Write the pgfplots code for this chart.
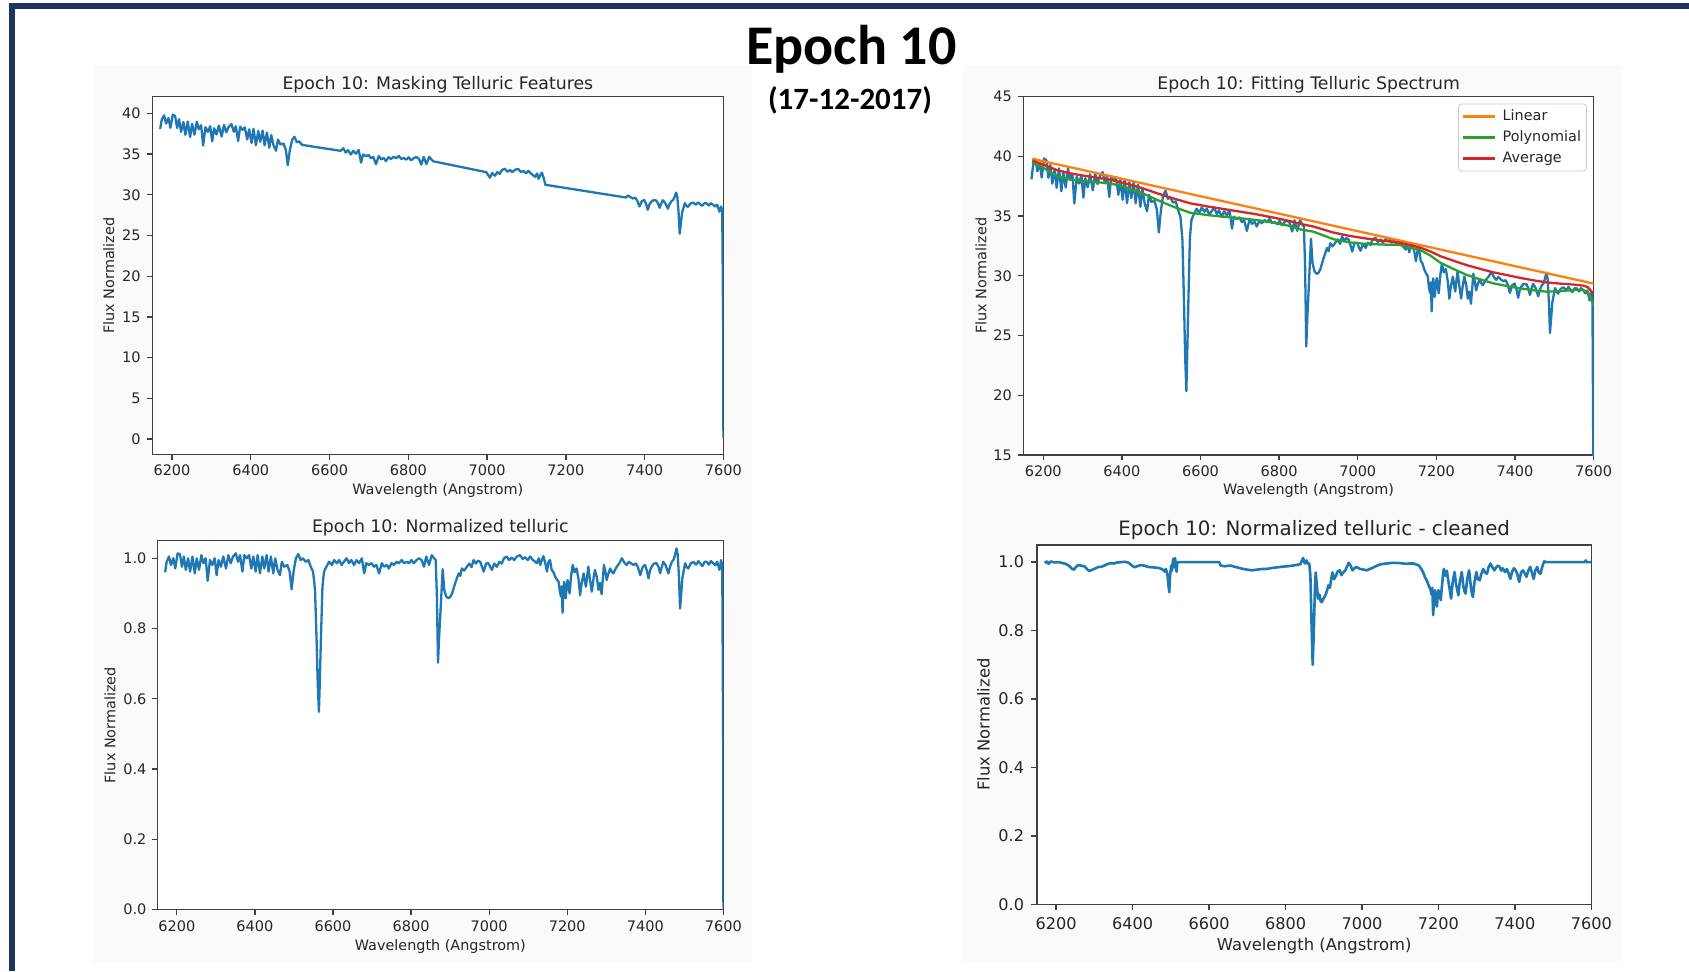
\documentclass[border=0pt]{standalone}
\usepackage{fontspec}
\setmainfont{DejaVu Sans}
\newfontfamily\slidefont{Carlito}
\usepackage{pgfplots}
\usepackage{pgfplotstable}
\pgfplotsset{compat=1.18}

\definecolor{mplblue}{HTML}{1F77B4}
\definecolor{mplorange}{HTML}{FF7F0E}
\definecolor{mplgreen}{HTML}{2CA02C}
\definecolor{mplred}{HTML}{D62728}
\definecolor{slidenavy}{HTML}{1B3460}
\definecolor{figgray}{HTML}{FAFAFA}

% normalised telluric spectrum (flux / average continuum)
\pgfplotstableread{
wl flux
6170 0.960
6174 0.990
6180 1.005
6185 0.981
6191 1.000
6196 0.971
6202 1.014
6208 1.012
6213 0.976
6218 1.005
6223 0.967
6229 1.000
6234 0.962
6240 1.005
6246 0.957
6251 1.000
6257 0.967
6263 1.009
6268 0.986
6274 1.000
6279 0.936
6285 0.995
6291 0.981
6297 1.000
6302 0.952
6307 0.995
6313 0.976
6319 1.005
6326 0.971
6332 1.009
6338 0.986
6344 1.005
6351 1.014
6357 0.990
6362 1.009
6368 0.962
6373 1.009
6379 1.000
6385 1.009
6391 0.971
6396 1.005
6402 0.962
6407 1.009
6413 0.957
6419 1.005
6424 0.971
6430 1.009
6435 0.962
6441 1.005
6447 0.957
6452 1.000
6458 0.967
6464 0.952
6469 0.990
6475 0.976
6483 0.981
6489 0.962
6494 0.912
6499 0.962
6505 1.000
6511 1.012
6517 0.995
6523 1.000
6530 0.990
6537 0.995
6543 0.976
6549 0.962
6554 0.910
6558 0.767
6561 0.640
6564 0.563
6566 0.640
6569 0.767
6573 0.919
6577 0.962
6583 0.976
6590 0.990
6597 0.981
6603 0.995
6610 0.986
6616 0.995
6622 0.981
6628 0.990
6635 1.000
6641 0.986
6647 0.995
6654 0.981
6660 0.995
6667 0.986
6674 1.000
6680 0.957
6685 0.986
6692 0.981
6699 0.986
6705 0.976
6711 0.981
6718 0.957
6725 0.986
6731 0.976
6738 0.981
6743 0.971
6750 0.986
6756 0.981
6763 0.990
6769 0.986
6776 0.995
6782 0.986
6789 0.990
6795 0.986
6801 0.995
6807 0.986
6814 0.995
6820 1.000
6827 0.995
6833 0.976
6839 1.005
6846 0.981
6853 1.009
6859 1.000
6863 0.995
6866 0.900
6869 0.703
6872 0.780
6876 0.862
6881 0.969
6885 0.910
6890 0.891
6896 0.886
6900 0.890
6905 0.900
6909 0.915
6913 0.929
6918 0.945
6922 0.957
6926 0.950
6930 0.971
6936 0.965
6943 0.976
6949 0.985
6955 0.975
6960 0.995
6966 0.985
6971 0.993
6977 0.990
6982 0.975
6986 0.962
6992 0.985
6998 0.986
7003 0.975
7007 0.967
7013 0.985
7020 0.976
7026 0.990
7032 0.985
7038 1.000
7045 1.005
7051 0.995
7058 1.002
7064 0.995
7071 1.005
7079 1.009
7086 0.998
7092 1.003
7099 0.995
7105 1.005
7112 0.995
7118 0.990
7122 0.986
7127 1.000
7131 0.981
7135 0.995
7139 1.006
7144 0.985
7148 0.962
7152 0.990
7156 0.995
7160 0.967
7165 0.960
7169 0.948
7173 0.940
7178 0.933
7181 0.905
7184 0.891
7186 0.920
7188 0.845
7190 0.900
7192 0.933
7194 0.915
7196 0.886
7199 0.925
7201 0.938
7204 0.915
7206 0.900
7210 0.950
7214 0.981
7219 0.960
7224 0.971
7229 0.940
7233 0.895
7237 0.930
7242 0.957
7245 0.935
7248 0.919
7251 0.950
7254 0.976
7258 0.940
7263 0.905
7267 0.940
7271 0.967
7276 0.945
7280 0.910
7284 0.930
7288 0.898
7291 0.940
7294 0.981
7298 0.960
7301 0.938
7305 0.955
7310 0.971
7314 0.962
7318 0.957
7323 0.968
7327 0.976
7333 0.985
7340 1.000
7346 0.988
7352 0.981
7358 0.990
7364 0.985
7370 0.981
7376 0.985
7381 0.975
7387 0.952
7393 0.975
7399 0.981
7404 0.965
7408 0.943
7412 0.965
7416 0.976
7422 0.985
7429 0.986
7434 0.975
7438 0.957
7442 0.975
7446 0.990
7452 0.980
7459 0.957
7463 0.975
7468 0.990
7472 0.995
7476 1.009
7480 1.028
7483 1.010
7486 0.950
7489 0.857
7492 0.900
7495 0.945
7502 0.986
7506 0.975
7510 0.971
7516 0.985
7523 0.990
7530 0.982
7536 0.992
7540 0.986
7546 0.978
7552 0.990
7557 0.990
7563 0.982
7568 0.992
7574 0.986
7579 0.980
7584 0.990
7590 0.967
7594 0.995
7597 0.980
7599.5 0.450
7600 0.004
}\normspec

% observed flux
\pgfplotstableread{
wl flux
6170 38.08
6174 39.23
6180 39.76
6185 38.75
6191 39.43
6196 38.23
6202 39.84
6208 39.68
6213 38.21
6218 39.28
6223 37.72
6229 38.93
6234 37.38
6240 39.00
6246 37.09
6251 38.72
6257 37.39
6263 38.98
6268 38.05
6274 38.55
6279 36.05
6285 38.30
6291 37.73
6297 38.42
6302 36.56
6307 38.18
6313 37.42
6319 38.50
6326 37.16
6332 38.58
6338 37.68
6344 38.37
6351 38.68
6357 37.74
6362 38.43
6368 36.61
6373 38.37
6379 37.98
6385 38.28
6391 36.79
6396 38.04
6402 36.37
6407 38.10
6413 36.09
6419 37.84
6424 36.51
6430 37.89
6435 36.08
6441 37.64
6447 35.78
6452 37.34
6458 36.04
6464 35.41
6469 36.78
6475 36.19
6483 36.29
6489 35.52
6494 33.63
6499 35.42
6505 36.75
6511 37.13
6517 36.45
6523 36.56
6530 36.13
6537 36.24
6543 35.50
6549 34.93
6554 33.00
6558 27.79
6561 23.17
6564 20.36
6566 23.14
6569 27.70
6573 33.16
6577 34.69
6583 35.16
6590 35.62
6597 35.26
6603 35.72
6610 35.36
6616 35.64
6622 35.11
6628 35.40
6635 35.72
6641 35.19
6647 35.48
6654 34.94
6660 35.41
6667 35.05
6674 35.51
6680 33.95
6685 34.95
6692 34.75
6699 34.89
6705 34.50
6711 34.65
6718 33.76
6725 34.76
6731 34.36
6738 34.51
6743 34.13
6750 34.62
6756 34.40
6763 34.67
6769 34.49
6776 34.78
6782 34.41
6789 34.51
6795 34.32
6801 34.60
6807 34.24
6814 34.51
6820 34.64
6827 34.42
6833 33.71
6839 34.65
6846 33.77
6853 34.67
6859 34.32
6863 34.12
6866 30.84
6869 24.08
6872 26.70
6876 29.48
6881 33.11
6885 31.07
6890 30.38
6896 30.16
6900 30.26
6905 30.56
6909 31.03
6913 31.47
6918 31.97
6922 32.34
6926 32.06
6930 32.73
6936 32.47
6943 32.78
6949 33.05
6955 32.67
6960 33.31
6966 32.94
6971 33.17
6977 33.03
6982 32.50
6986 32.04
6992 32.78
6998 32.78
7003 32.39
7007 32.10
7013 32.67
7020 32.34
7026 32.78
7032 32.58
7038 33.06
7045 33.20
7051 32.84
7058 33.04
7064 32.78
7071 33.08
7079 33.18
7086 32.79
7092 32.93
7099 32.64
7105 32.94
7112 32.58
7118 32.36
7122 32.20
7127 32.62
7131 31.97
7135 32.40
7139 32.73
7144 32.00
7148 31.23
7152 32.10
7156 32.23
7160 31.29
7165 31.00
7169 30.56
7173 30.26
7178 29.98
7181 29.04
7184 28.56
7186 29.46
7188 27.03
7190 28.76
7192 29.79
7194 29.19
7196 28.24
7199 29.43
7201 29.82
7204 29.04
7206 28.54
7210 30.07
7214 31.00
7219 30.29
7224 30.58
7229 29.54
7233 28.09
7237 29.15
7242 29.93
7245 29.22
7248 28.69
7251 29.62
7254 30.40
7258 29.24
7263 28.10
7267 29.15
7271 29.95
7276 29.21
7280 28.09
7284 28.68
7288 27.66
7291 28.92
7294 30.17
7298 29.48
7301 28.78
7305 29.26
7310 29.71
7314 29.40
7318 29.22
7323 29.51
7327 29.72
7333 29.94
7340 30.33
7346 29.92
7352 29.67
7358 29.90
7364 29.71
7370 29.55
7376 29.64
7381 29.30
7387 28.57
7393 29.22
7399 29.36
7404 28.84
7408 28.16
7412 28.80
7416 29.10
7422 29.33
7429 29.31
7434 28.96
7438 28.40
7442 28.92
7446 29.33
7452 29.01
7459 28.29
7463 28.80
7468 29.22
7472 29.34
7476 29.74
7480 30.27
7483 29.73
7486 27.97
7489 25.22
7492 26.48
7495 27.79
7502 28.98
7506 28.65
7510 28.51
7516 28.91
7523 29.04
7530 28.79
7536 29.07
7540 28.88
7546 28.64
7552 28.97
7557 28.95
7563 28.69
7568 28.97
7574 28.77
7579 28.55
7584 28.78
7590 27.93
7594 28.57
7597 28.02
7599.5 12.82
7600 0.11
}\rawspec

% continuum fits
\pgfplotstableread{
wl poly avg
6172 39.50 39.65
6200 39.05 39.32
6235 38.36 38.85
6270 38.05 38.57
6320 37.88 38.30
6370 37.75 38.05
6404 37.47 37.79
6450 36.95 37.36
6490 36.35 36.91
6530 35.80 36.49
6573 35.29 36.08
6620 35.08 35.80
6658 34.95 35.60
6700 34.83 35.38
6743 34.67 35.15
6790 34.43 34.85
6828 34.17 34.58
6854 33.89 34.35
6887 33.70 34.13
6939 33.06 33.62
6980 32.80 33.34
7023 32.67 33.12
7065 32.62 32.94
7108 32.58 32.77
7159 32.16 32.37
7185 31.70 32.04
7210 31.10 31.65
7245 30.55 31.25
7278 30.07 30.89
7312 29.70 30.58
7345 29.37 30.29
7380 29.15 30.06
7413 28.95 29.83
7450 28.78 29.61
7481 28.67 29.45
7515 28.72 29.35
7549 28.81 29.27
7574 28.81 29.18
7585 28.65 29.06
7591 28.26 28.84
7600 27.56 28.46
}\fits

\pgfplotstableread{
wl lin
6172 39.80
7600 29.35
}\linfit

% normalised spectrum with telluric-free windows set to unity
\pgfplotstableread{
wl flux
6170 0.998
6176 1.002
6180 0.995
6186 1.002
6195 0.999
6205 1.000
6214 0.998
6225 0.995
6235 0.988
6242 0.980
6247 0.978
6252 0.986
6257 0.991
6265 0.990
6275 0.987
6282 0.978
6288 0.974
6295 0.978
6303 0.982
6311 0.986
6318 0.986
6326 0.990
6334 0.994
6342 0.997
6350 0.996
6360 0.999
6370 1.000
6380 1.001
6390 0.998
6398 0.990
6405 0.985
6412 0.988
6420 0.991
6430 0.990
6440 0.986
6450 0.985
6460 0.984
6468 0.983
6476 0.980
6480 0.977
6484 0.972
6487 0.980
6491 0.965
6494 0.930
6496 0.912
6498 0.960
6501 0.990
6503 0.975
6505 1.000
6507 1.010
6509 0.985
6511 1.012
6513 0.990
6515 0.972
6517 1.000
6627 1.000
6630 0.990
6640 0.988
6656 0.990
6665 0.987
6675 0.984
6690 0.980
6700 0.978
6712 0.976
6725 0.978
6740 0.980
6750 0.980
6765 0.983
6780 0.985
6795 0.987
6806 0.988
6820 0.990
6830 0.992
6839 0.994
6843 1.005
6846 1.012
6849 1.000
6851 0.996
6855 1.005
6858 0.995
6862 0.996
6865 0.960
6868 0.820
6871 0.700
6874 0.800
6877 0.930
6879 0.970
6882 0.930
6885 0.893
6889 0.905
6892 0.885
6895 0.883
6899 0.893
6904 0.902
6908 0.915
6912 0.932
6916 0.925
6920 0.955
6923 0.970
6927 0.950
6932 0.961
6936 0.972
6942 0.976
6946 0.962
6951 0.970
6956 0.975
6960 0.985
6965 0.998
6970 0.990
6975 0.976
6980 0.982
6985 0.986
6995 0.980
7005 0.978
7012 0.976
7025 0.982
7040 0.990
7050 0.994
7065 0.996
7080 0.998
7088 0.998
7100 0.997
7115 0.995
7125 0.996
7135 0.996
7142 0.993
7149 0.990
7155 0.980
7160 0.970
7165 0.955
7170 0.945
7175 0.930
7179 0.920
7182 0.905
7184 0.925
7186 0.845
7189 0.900
7191 0.918
7194 0.880
7196 0.870
7198 0.905
7200 0.918
7203 0.900
7206 0.889
7209 0.930
7212 0.965
7214 0.980
7218 0.960
7222 0.975
7224 0.957
7228 0.930
7233 0.893
7237 0.940
7242 0.971
7246 0.935
7249 0.920
7252 0.903
7256 0.945
7261 0.971
7265 0.930
7268 0.915
7271 0.908
7275 0.950
7280 0.976
7284 0.935
7287 0.910
7290 0.898
7294 0.940
7299 0.971
7303 0.950
7308 0.947
7312 0.965
7317 0.980
7322 0.970
7327 0.966
7331 0.985
7336 0.996
7341 0.985
7346 0.976
7351 0.985
7355 0.990
7360 0.986
7364 0.975
7368 0.982
7374 0.971
7379 0.980
7384 0.965
7388 0.951
7392 0.970
7397 0.982
7402 0.976
7406 0.965
7411 0.942
7416 0.970
7421 0.976
7426 0.966
7430 0.957
7435 0.975
7440 0.986
7444 0.970
7449 0.951
7453 0.975
7458 0.986
7462 0.970
7467 0.966
7471 0.985
7474 0.995
7477 1.003
7480 1.000
7583 1.000
7585 1.005
7587 1.000
7600 1.000
}\cleanspec

\pgfplotsset{
  spectrum/.style={
    scale only axis,
    enlargelimits=false,
    clip=true,
    xmin=6150, xmax=7600,
    xtick={6200,6400,6600,6800,7000,7200,7400,7600},
    tick align=outside,
    tick pos=left,
    major tick length=2.7pt,
    axis line style={black!75, line width=0.64pt},
    every tick/.style={black!75, line width=0.64pt},
    /pgf/number format/assume math mode=true,
    /pgf/number format/1000 sep={},
    tick label style={font=\fontsize{7.25}{8.5}\selectfont, text=black!85},
    xticklabel style={anchor=north, inner sep=0pt},
    yticklabel style={anchor=east, inner sep=0pt},
    every axis title/.style={font=\fontsize{8.65}{10}\selectfont, text=black!85,
      at={(axis description cs:0.5,1)}, anchor=base, yshift=3.7pt},
    label style={font=\fontsize{7.2}{8.5}\selectfont, text=black!85},
    xlabel style={anchor=center},
    ylabel style={anchor=center},
    unbounded coords=discard,
  },
  trace/.style={mplblue, line width=1.15pt, line join=round},
}

\begin{document}
\begin{tikzpicture}
\path[use as bounding box, fill=white] (0,0) rectangle (844.5pt,485.5pt);
\fill[figgray] (46.5pt,4.5pt) rectangle (376pt,453pt);
\fill[figgray] (481.5pt,4.5pt) rectangle (811pt,453pt);
\fill[slidenavy] (4.5pt,481.15pt) rectangle (844.5pt,483.85pt);
\fill[slidenavy] (4.5pt,0pt) rectangle (7.5pt,483.85pt);

% masked spectrum
\begin{axis}[spectrum,
  at={(76.15pt,258.25pt)}, anchor=south west,
  width=285.55pt, height=178.9pt,
  ymin=-1.9, ymax=42.05, ytick={0,5,...,40},
  xticklabel shift=2.26pt, yticklabel shift=2.95pt,
  title={Epoch 10: Masking Telluric Features},
  xlabel={Wavelength (Angstrom)}, ylabel={Flux Normalized},
  xlabel style={at={(axis description cs:0.5,-0.1015)}},
  ylabel style={at={(axis description cs:-0.0762,0.5)}},
  axis background/.style={fill=white}]
\addplot[trace,
  x filter/.expression={((x>6531)&&(x<6627)) || ((x>6864)&&(x<6995)) || ((x>7150)&&(x<7350)) ? nan : x}]
  table[x=wl, y=flux] {\rawspec};
\end{axis}

% fitted continuum
\begin{axis}[spectrum,
  at={(511.8pt,258pt)}, anchor=south west,
  width=285pt, height=179.15pt,
  ymin=15, ymax=45, ytick={15,20,...,45},
  xticklabel shift=2.26pt, yticklabel shift=2.95pt,
  title={Epoch 10: Fitting Telluric Spectrum},
  xlabel={Wavelength (Angstrom)}, ylabel={Flux Normalized},
  xlabel style={at={(axis description cs:0.5,-0.0996)}},
  ylabel style={at={(axis description cs:-0.0747,0.5)}},
  axis background/.style={fill=white},
  legend cell align=left,
  legend image code/.code={\draw[#1] (0pt,0pt) -- (16pt,0pt); \path (18.2pt,0pt);},
  legend style={at={(axis description cs:0.988,0.981)}, anchor=north east,
    draw=black!20, rounded corners=1.5pt, fill=white,
    font=\fontsize{7.2}{8.5}\selectfont, text=black!85,
    inner xsep=1.4pt, inner ysep=1pt, row sep=0pt, column sep=0pt,
    nodes={inner xsep=1.3pt, inner ysep=0.75pt, text height=6.5pt, text depth=2.5pt}}]
\addplot[trace, forget plot] table[x=wl, y=flux] {\rawspec};
\addplot[mplorange, line width=1.15pt] table[x=wl, y=lin] {\linfit};
\addlegendentry{Linear}
\addplot[mplgreen, line width=1.15pt, line join=round] table[x=wl, y=poly] {\fits};
\addlegendentry{Polynomial}
\addplot[mplred, line width=1.15pt, line join=round] table[x=wl, y=avg] {\fits};
\addlegendentry{Average}
\end{axis}

% normalised spectrum
\begin{axis}[spectrum,
  at={(78.65pt,30.65pt)}, anchor=south west,
  width=283.05pt, height=184.5pt,
  ymin=0, ymax=1.05, ytick={0,0.2,0.4,0.6,0.8,1},
  yticklabel style={/pgf/number format/.cd, fixed, fixed zerofill, precision=1},
  xticklabel shift=2.46pt, yticklabel shift=2.55pt,
  title={Epoch 10: Normalized telluric},
  title style={yshift=0.5pt},
  xlabel={Wavelength (Angstrom)}, ylabel={Flux Normalized},
  xlabel style={at={(axis description cs:0.5,-0.1003)}},
  ylabel style={at={(axis description cs:-0.0836,0.5)}},
  axis background/.style={fill=white}]
\addplot[trace] table[x=wl, y=flux] {\normspec};
\end{axis}

% cleaned normalised spectrum
\begin{axis}[spectrum,
  at={(518.5pt,33.35pt)}, anchor=south west,
  width=277.2pt, height=179.65pt,
  ymin=0, ymax=1.05, ytick={0,0.2,0.4,0.6,0.8,1},
  major tick length=3pt,
  axis line style={black!75, line width=0.66pt},
  every tick/.style={black!75, line width=0.66pt},
  tick label style={font=\fontsize{8.05}{9.5}\selectfont},
  yticklabel style={/pgf/number format/.cd, fixed, fixed zerofill, precision=1},
  xticklabel shift=3.52pt, yticklabel shift=3.3pt,
  title={Epoch 10: Normalized telluric - cleaned},
  title style={font=\fontsize{9.9}{11.5}\selectfont, yshift=0.95pt},
  label style={font=\fontsize{8.2}{9.5}\selectfont},
  xlabel={Wavelength (Angstrom)}, ylabel={Flux Normalized},
  xlabel style={at={(axis description cs:0.5,-0.1152)}},
  ylabel style={at={(axis description cs:-0.0965,0.5)}},
  axis background/.style={fill=white}]
\addplot[mplblue, line width=1.3pt, line join=round] table[x=wl, y=flux] {\cleanspec};
\end{axis}

\node[font=\slidefont\bfseries\fontsize{28}{32}\selectfont, anchor=base, inner sep=0pt]
  at (425.75pt,453.35pt) {Epoch 10};
\node[font=\slidefont\bfseries\fontsize{15.5}{18}\selectfont, anchor=base, inner sep=0pt]
  at (425pt,430.5pt) {(17-12-2017)};
\end{tikzpicture}
\end{document}
